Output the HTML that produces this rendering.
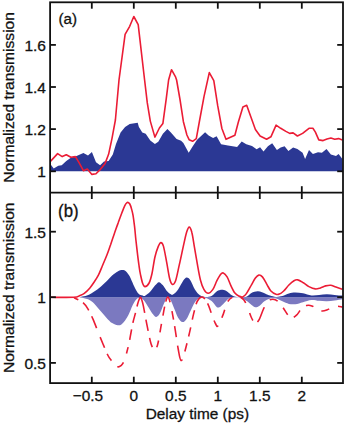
<!DOCTYPE html>
<html lang="en"><head><meta charset="utf-8"><title>Normalized transmission vs delay time</title>
<style>html,body{margin:0;padding:0;background:#fff}svg{display:block}</style></head>
<body>
<svg width="350" height="427" viewBox="0 0 350 427">
<rect width="350" height="427" fill="#fff"/>
<path d="M50.7,164.6 L53.7,168.5 L58.3,165.7 L61.7,165.3 L66.3,161.1 L70.9,157.7 L75.4,156.6 L83.4,153.1 L88.0,155.4 L91.9,152.0 L96.0,162.3 L100.1,165.3 L104.0,161.6 L108.6,161.1 L112.8,154.5 L116.0,144.0 L120.6,132.6 L125.1,126.9 L129.7,123.9 L137.7,122.7 L138.9,126.9 L142.3,132.6 L145.7,133.7 L150.3,140.6 L154.9,144.0 L158.3,141.7 L162.9,133.7 L167.4,129.1 L170.9,132.6 L176.6,139.0 L181.1,140.8 L183.4,143.1 L188.7,152.7 L192.6,146.6 L197.1,139.7 L205.1,132.2 L208.6,135.6 L213.1,137.9 L216.6,136.3 L221.1,144.3 L228.0,145.4 L237.1,147.0 L241.7,141.5 L246.3,144.3 L252.0,146.1 L256.6,149.3 L260.1,147.3 L263.5,151.4 L267.9,146.3 L272.2,143.2 L276.9,150.1 L280.7,147.6 L284.6,146.3 L288.4,150.9 L293.1,147.6 L297.4,148.9 L302.6,152.7 L305.1,159.1 L309.0,150.1 L312.9,154.0 L318.0,152.2 L321.9,152.7 L326.5,148.9 L330.9,154.5 L336.0,156.0 L338.6,154.0 L342.4,159.1 L343.0,171.2 L50.1,171.2 Z" fill="#2b3894"/>
<path d="M50.7,161.1 L57.6,153.6 L62.2,156.6 L66.3,154.7 L70.9,157.3 L75.4,156.6 L78.9,162.3 L83.4,170.7 L87.3,169.1 L91.9,174.4 L96.0,173.7 L100.6,169.1 L105.1,163.4 L108.6,154.3 L112.0,138.3 L115.4,120.0 L119.0,80.0 L125.1,34.3 L129.7,26.3 L133.8,16.5 L138.2,24.7 L144.6,80.0 L147.3,102.9 L150.3,121.1 L154.9,137.1 L159.4,128.0 L162.9,123.4 L166.3,98.3 L168.6,80.0 L171.5,69.7 L175.4,76.6 L176.6,80.0 L180.0,99.5 L183.4,121.7 L186.9,135.0 L189.1,139.7 L192.6,141.3 L196.3,138.7 L199.4,121.5 L204.0,96.6 L209.3,72.6 L213.8,80.6 L217.7,105.7 L221.9,128.5 L226.0,139.3 L234.9,135.2 L238.3,122.2 L242.9,106.9 L246.7,105.3 L250.9,117.1 L255.4,129.5 L260.1,136.0 L266.6,139.3 L270.9,136.8 L276.1,125.2 L280.7,128.3 L285.9,131.4 L289.7,133.4 L293.1,132.9 L297.4,136.0 L302.6,133.4 L309.0,128.3 L312.9,128.3 L315.4,132.1 L318.8,139.9 L323.1,140.6 L327.0,139.1 L330.9,138.1 L334.7,139.3 L338.6,138.6 L342.4,139.9" fill="none" stroke="#eb1c35" stroke-width="1.6" stroke-linejoin="round"/>
<path d="M78.0,297.3 C78.7,297.4 80.4,297.3 82.4,297.8 C84.4,298.3 87.7,299.0 89.9,300.2 C92.1,301.4 93.6,303.0 95.4,304.9 C97.2,306.8 99.1,309.2 101.0,311.4 C102.9,313.6 104.8,315.9 106.6,317.9 C108.4,319.8 110.2,321.9 112.1,323.1 C113.9,324.3 116.2,325.1 117.7,325.3 C119.2,325.5 120.2,325.2 121.4,324.4 C122.6,323.6 123.8,322.3 125.1,320.6 C126.3,318.9 127.8,316.3 128.9,314.1 C130.0,311.9 130.7,309.6 131.6,307.6 C132.5,305.6 133.5,303.6 134.4,302.1 C135.3,300.6 136.3,299.3 137.2,298.6 C138.1,297.9 138.6,297.5 139.6,297.7 C140.6,297.9 141.9,298.1 143.4,299.7 C144.9,301.3 147.0,304.9 148.6,307.4 C150.2,309.9 151.9,313.0 153.2,314.6 C154.5,316.2 155.2,317.1 156.3,316.9 C157.4,316.7 158.5,315.8 159.8,313.6 C161.1,311.4 162.8,306.2 164.0,303.6 C165.2,301.0 166.0,298.5 167.1,297.9 C168.2,297.2 169.2,297.9 170.4,299.7 C171.6,301.5 173.0,305.7 174.3,308.7 C175.6,311.7 176.7,315.5 178.1,317.7 C179.5,319.9 181.1,321.9 182.5,322.1 C183.9,322.3 185.2,321.0 186.6,319.0 C188.0,317.0 189.6,312.8 191.0,310.0 C192.4,307.2 193.6,304.2 194.9,302.3 C196.2,300.4 197.0,299.2 198.7,298.4 C200.4,297.6 202.9,297.3 205.1,297.7 C207.2,298.1 209.6,299.4 211.6,301.0 C213.6,302.6 215.4,306.3 216.9,307.2 C218.4,308.1 219.2,307.4 220.7,306.4 C222.2,305.4 224.4,302.7 225.9,301.3 C227.4,299.9 227.6,298.8 229.7,298.2 C231.8,297.6 235.9,297.1 238.7,297.5 C241.5,297.9 244.2,299.5 246.4,300.8 C248.6,302.1 250.1,304.0 251.6,305.1 C253.1,306.2 254.1,307.1 255.4,307.2 C256.7,307.3 257.8,306.9 259.3,305.9 C260.8,304.9 262.7,302.5 264.4,301.3 C266.1,300.1 267.7,299.2 269.6,298.7 C271.5,298.2 273.9,298.1 276.0,298.5 C278.1,298.9 280.2,300.4 282.4,301.3 C284.5,302.2 286.8,303.4 288.9,303.9 C291.0,304.4 292.9,304.5 295.3,304.2 C297.7,303.9 300.3,302.9 303.0,302.2 C305.7,301.5 308.7,300.2 311.4,300.0 C314.1,299.8 316.5,300.6 319.1,300.8 C321.7,301.0 324.3,301.4 326.9,301.3 C329.5,301.2 332.0,300.9 334.6,300.5 C337.2,300.1 341.0,299.4 342.3,299.2 L343.0,297.3 L78,297.3 Z" fill="#7b79c0"/>
<path d="M78.0,297.3 C79.0,297.1 82.0,296.7 84.0,296.2 C86.0,295.7 87.7,295.3 89.9,294.2 C92.1,293.1 94.8,291.5 97.3,289.6 C99.8,287.8 102.2,285.4 104.7,283.1 C107.2,280.8 109.9,277.6 112.1,275.6 C114.3,273.7 116.0,272.3 117.7,271.4 C119.4,270.5 121.0,270.0 122.4,270.0 C123.8,270.0 124.9,270.3 126.1,271.4 C127.3,272.5 128.6,274.4 129.8,276.6 C131.0,278.9 132.4,282.6 133.5,284.9 C134.6,287.2 135.4,288.9 136.3,290.5 C137.2,292.1 138.1,293.4 139.1,294.2 C140.1,295.0 141.2,295.0 142.1,295.3 C143.0,295.6 143.4,296.4 144.7,295.9 C146.0,295.3 148.2,293.7 149.9,292.0 C151.6,290.3 153.5,287.2 155.0,285.6 C156.5,284.0 157.6,282.3 158.9,282.2 C160.2,282.1 161.4,283.7 162.7,285.1 C164.0,286.5 165.3,289.2 166.6,290.7 C167.9,292.2 169.3,293.5 170.4,294.1 C171.5,294.8 171.7,295.4 173.0,294.6 C174.3,293.8 176.4,291.7 178.1,289.4 C179.8,287.1 181.9,282.6 183.3,280.6 C184.7,278.6 185.4,277.5 186.6,277.4 C187.8,277.3 188.8,277.9 190.2,279.9 C191.6,281.9 193.3,286.8 194.9,289.4 C196.5,292.0 198.3,294.1 200.0,295.3 C201.7,296.6 203.2,296.8 205.1,296.9 C207.0,297.0 209.4,296.9 211.6,295.9 C213.8,294.8 216.2,291.6 218.1,290.6 C220.0,289.6 221.3,289.6 222.8,289.7 C224.3,289.8 225.5,290.4 227.1,291.4 C228.7,292.4 230.4,294.6 232.3,295.6 C234.2,296.6 236.3,297.1 238.7,297.3 C241.0,297.5 244.3,297.4 246.4,296.7 C248.5,296.0 249.7,294.1 251.0,293.3 C252.3,292.5 253.3,292.2 254.5,291.8 C255.7,291.4 256.8,291.1 258.0,291.2 C259.2,291.3 260.7,291.7 262.0,292.2 C263.3,292.7 264.7,293.4 266.0,294.0 C267.3,294.6 268.3,295.1 270.0,295.6 C271.7,296.1 273.9,296.8 276.0,296.9 C278.1,297.0 280.2,296.7 282.4,296.1 C284.5,295.6 286.8,294.2 288.9,293.6 C291.0,293.0 292.9,292.7 295.3,292.6 C297.7,292.6 300.3,292.8 303.0,293.3 C305.7,293.8 308.7,295.1 311.4,295.4 C314.1,295.7 316.5,295.1 319.1,294.9 C321.7,294.7 324.3,294.3 326.9,294.3 C329.5,294.3 332.0,294.7 334.6,294.9 C337.2,295.1 341.0,295.5 342.3,295.6 L343.0,297.3 L78,297.3 Z" fill="#2b3894"/>
<path d="M73.7,297.6 C75.2,298.4 80.3,300.5 82.7,302.4 C85.1,304.3 86.2,306.1 87.9,308.9 C89.6,311.7 91.3,315.2 93.0,319.1 C94.7,323.0 96.4,327.7 98.1,332.0 C99.8,336.3 101.7,340.9 103.3,344.7 C104.9,348.5 106.4,352.4 107.7,355.0 C109.0,357.6 109.4,358.2 111.0,360.1 C112.6,362.0 115.7,365.7 117.4,366.6 C119.1,367.5 120.2,366.2 121.3,365.3 C122.4,364.4 123.1,363.3 123.9,361.4 C124.8,359.5 125.6,356.7 126.4,353.7 C127.2,350.7 128.2,347.2 129.0,343.4 C129.8,339.6 130.6,334.6 131.3,331.0 C132.0,327.4 132.5,324.5 133.2,321.5 C133.9,318.5 134.8,315.7 135.5,312.9 C136.2,310.1 136.9,306.8 137.5,304.5 C138.1,302.2 138.8,300.2 139.3,299.0 C139.8,297.8 140.1,297.1 140.5,297.3 C140.9,297.5 141.3,298.5 141.8,300.0 C142.3,301.5 142.5,301.7 143.4,306.1 C144.3,310.6 146.0,320.4 147.3,326.7 C148.6,333.0 149.9,340.3 151.1,344.0 C152.3,347.7 153.4,348.9 154.5,349.0 C155.6,349.1 156.4,348.8 157.6,344.7 C158.8,340.6 160.1,331.0 161.4,324.1 C162.7,317.2 164.2,308.1 165.3,303.6 C166.4,299.1 167.1,297.1 167.9,297.1 C168.8,297.1 169.3,299.1 170.4,303.6 C171.5,308.1 173.0,316.6 174.3,324.1 C175.6,331.6 177.0,342.4 178.1,348.5 C179.2,354.6 179.9,359.9 181.0,360.5 C182.1,361.1 183.2,357.2 184.6,352.4 C186.0,347.6 188.2,338.3 189.7,331.9 C191.2,325.5 192.3,319.0 193.6,313.9 C194.9,308.8 195.9,303.8 197.4,301.0 C198.9,298.2 200.9,296.7 202.6,297.1 C204.3,297.5 206.2,300.8 207.7,303.6 C209.2,306.4 210.3,310.6 211.6,313.9 C212.9,317.2 214.3,321.5 215.4,323.5 C216.5,325.5 216.7,327.4 218.0,325.8 C219.3,324.2 221.8,318.0 223.3,314.1 C224.8,310.2 225.6,305.4 227.1,302.6 C228.6,299.8 230.4,298.3 232.3,297.4 C234.2,296.4 236.8,296.5 238.7,296.9 C240.6,297.3 242.4,298.2 243.9,300.0 C245.4,301.8 246.4,304.7 247.7,307.7 C249.0,310.7 250.3,315.4 251.6,318.0 C252.9,320.6 254.1,322.9 255.4,323.1 C256.7,323.3 257.9,321.7 259.3,319.3 C260.7,316.9 262.1,312.0 263.5,309.0 C264.9,306.0 266.1,302.9 267.7,301.3 C269.3,299.7 271.2,299.2 272.9,299.2 C274.6,299.2 276.3,299.9 278.0,301.3 C279.7,302.7 281.4,305.3 283.1,307.7 C284.8,310.1 286.9,313.9 288.3,315.6 C289.8,317.3 290.4,318.1 291.8,318.0 C293.2,317.9 294.9,316.7 296.5,315.2 C298.1,313.7 299.8,310.4 301.5,308.8 C303.2,307.2 304.8,306.1 306.5,305.6 C308.2,305.1 310.1,305.3 311.8,305.9 C313.6,306.5 315.3,308.1 317.0,309.0 C318.7,309.9 320.5,310.9 322.2,311.0 C323.9,311.1 325.6,310.4 327.3,309.8 C329.0,309.2 330.8,307.8 332.5,307.2 C334.2,306.6 336.0,306.2 337.6,306.2 C339.2,306.2 341.5,306.9 342.3,307.0" fill="none" stroke="#eb1c35" stroke-width="1.6" stroke-dasharray="0.0 0.5 4.6 5.5 9.7 6.6 12.9 9.4 11.6 6.6 8.3 8.2 8.2 9.3 6.8 7.4 10.3 6.8 10.4 6.3 26.6 6.7 11.4 7.2 9.5 6.1 7.0 8.3 8.6 8.4 9.0 5.1 11.1 9.1 8.5 6.8 10.9 8.4 17.4 8.4 8.4 6.7 9.5 7.9 9.7 6.0 13.7 5.1 10.0 8.0 8.3 8.6 8.5 8.8 6.3 8.6 7.5 10.7 8.1 6.1 16.3 9.3 8.5 8.7 8.2 7.7 9.1 7.9 7.7 9.0 8.2 9.3 5.8 1000.0"/>
<path d="M50.6,297.3 C54.5,297.3 68.8,297.6 73.7,297.3 C78.6,297.0 78.2,296.2 80.0,295.5 C81.8,294.8 82.6,294.6 84.3,293.3 C86.0,292.0 88.2,289.9 89.9,287.9 C91.6,285.9 93.1,283.6 94.5,281.5 C95.9,279.4 97.1,277.6 98.4,275.1 C99.7,272.6 100.8,269.7 102.2,266.3 C103.6,262.9 105.5,258.6 106.9,255.0 C108.3,251.4 109.3,248.3 110.6,244.7 C111.8,241.1 113.2,237.0 114.4,233.4 C115.7,229.8 116.8,226.5 118.1,223.1 C119.3,219.7 120.8,215.7 121.9,212.8 C123.0,209.9 123.9,207.4 124.7,205.8 C125.5,204.2 126.0,203.6 126.6,203.0 C127.2,202.4 127.6,202.2 128.1,202.4 C128.6,202.6 129.2,202.9 129.8,204.0 C130.4,205.1 131.1,207.2 131.6,209.1 C132.1,211.0 132.6,212.6 133.1,215.6 C133.6,218.6 134.1,222.8 134.6,226.9 C135.1,231.0 135.4,235.6 135.9,240.0 C136.4,244.4 136.9,248.7 137.4,253.1 C137.9,257.5 138.6,262.6 139.1,266.3 C139.6,270.0 140.0,272.3 140.6,275.1 C141.2,277.9 141.9,281.3 142.6,283.2 C143.3,285.1 143.9,286.6 145.0,286.6 C146.1,286.6 147.9,285.2 149.1,283.0 C150.3,280.8 151.0,277.9 152.0,273.5 C153.0,269.1 153.9,261.2 155.0,256.7 C156.1,252.2 157.3,248.8 158.3,246.4 C159.3,244.1 160.0,242.6 160.9,242.6 C161.8,242.6 162.6,243.2 163.5,246.4 C164.4,249.6 165.6,256.6 166.6,261.9 C167.6,267.2 168.6,274.3 169.5,278.0 C170.4,281.7 171.2,283.8 172.2,284.3 C173.2,284.8 174.4,284.1 175.6,280.8 C176.8,277.5 178.1,270.1 179.4,264.4 C180.7,258.7 182.1,251.8 183.3,246.4 C184.5,241.1 185.6,235.5 186.6,232.3 C187.6,229.1 188.3,227.1 189.2,227.1 C190.1,227.1 191.0,229.1 191.8,232.3 C192.7,235.5 193.4,241.1 194.3,246.4 C195.2,251.8 196.4,258.8 197.4,264.4 C198.4,270.0 199.4,276.0 200.5,280.2 C201.6,284.4 202.6,287.2 203.9,289.4 C205.2,291.6 206.7,293.3 208.2,293.3 C209.7,293.3 211.4,291.5 212.9,289.4 C214.4,287.3 215.6,283.2 216.9,280.7 C218.2,278.2 219.6,275.6 220.7,274.3 C221.8,273.0 222.2,272.6 223.3,273.0 C224.4,273.4 225.8,274.8 227.1,276.9 C228.4,279.0 229.7,283.2 231.0,285.9 C232.3,288.6 233.6,291.4 234.9,293.1 C236.2,294.8 237.4,295.5 238.7,296.1 C240.0,296.7 241.3,297.3 242.6,296.9 C243.9,296.5 244.9,295.7 246.4,293.6 C247.9,291.6 250.1,287.2 251.6,284.6 C253.1,282.0 254.2,279.7 255.4,278.1 C256.6,276.5 257.6,275.3 258.8,275.1 C260.0,274.9 261.0,275.3 262.4,276.9 C263.8,278.5 265.6,282.2 267.0,284.6 C268.4,287.0 269.4,289.4 270.9,291.0 C272.4,292.6 274.6,293.8 276.0,294.3 C277.4,294.8 278.0,294.7 279.3,294.1 C280.6,293.6 282.1,292.5 283.7,291.0 C285.3,289.5 287.2,286.7 288.9,285.0 C290.6,283.3 292.5,281.6 294.0,280.7 C295.5,279.8 296.3,279.5 297.9,279.9 C299.5,280.2 301.6,281.7 303.4,282.8 C305.2,283.9 306.9,285.6 308.9,286.6 C310.9,287.6 313.4,288.7 315.3,288.9 C317.2,289.1 318.7,288.4 320.4,287.9 C322.1,287.4 323.9,286.3 325.6,285.9 C327.3,285.5 329.0,285.1 330.7,285.3 C332.4,285.5 334.0,286.5 335.9,287.1 C337.8,287.8 341.2,288.9 342.3,289.2" fill="none" stroke="#eb1c35" stroke-width="1.6"/>
<g stroke="#111111" stroke-width="1.8" fill="none" stroke-linecap="butt">
<rect x="50.1" y="2.3" width="292.9" height="380.8"/>
<line x1="50.1" y1="192.6" x2="343.0" y2="192.6"/>
<line x1="91.80" y1="2.3" x2="91.80" y2="8.7"/>
<line x1="91.80" y1="186.2" x2="91.80" y2="199.0"/>
<line x1="91.80" y1="376.70000000000005" x2="91.80" y2="383.1"/>
<line x1="133.80" y1="2.3" x2="133.80" y2="8.7"/>
<line x1="133.80" y1="186.2" x2="133.80" y2="199.0"/>
<line x1="133.80" y1="376.70000000000005" x2="133.80" y2="383.1"/>
<line x1="175.80" y1="2.3" x2="175.80" y2="8.7"/>
<line x1="175.80" y1="186.2" x2="175.80" y2="199.0"/>
<line x1="175.80" y1="376.70000000000005" x2="175.80" y2="383.1"/>
<line x1="217.80" y1="2.3" x2="217.80" y2="8.7"/>
<line x1="217.80" y1="186.2" x2="217.80" y2="199.0"/>
<line x1="217.80" y1="376.70000000000005" x2="217.80" y2="383.1"/>
<line x1="259.80" y1="2.3" x2="259.80" y2="8.7"/>
<line x1="259.80" y1="186.2" x2="259.80" y2="199.0"/>
<line x1="259.80" y1="376.70000000000005" x2="259.80" y2="383.1"/>
<line x1="301.80" y1="2.3" x2="301.80" y2="8.7"/>
<line x1="301.80" y1="186.2" x2="301.80" y2="199.0"/>
<line x1="301.80" y1="376.70000000000005" x2="301.80" y2="383.1"/>
<line x1="50.1" y1="44.9" x2="55.9" y2="44.9"/>
<line x1="337.2" y1="44.9" x2="343.0" y2="44.9"/>
<line x1="50.1" y1="87.0" x2="55.9" y2="87.0"/>
<line x1="337.2" y1="87.0" x2="343.0" y2="87.0"/>
<line x1="50.1" y1="129.1" x2="55.9" y2="129.1"/>
<line x1="337.2" y1="129.1" x2="343.0" y2="129.1"/>
<line x1="50.1" y1="171.3" x2="55.9" y2="171.3"/>
<line x1="337.2" y1="171.3" x2="343.0" y2="171.3"/>
<line x1="50.1" y1="231.7" x2="55.9" y2="231.7"/>
<line x1="337.2" y1="231.7" x2="343.0" y2="231.7"/>
<line x1="50.1" y1="297.2" x2="55.9" y2="297.2"/>
<line x1="337.2" y1="297.2" x2="343.0" y2="297.2"/>
<line x1="50.1" y1="362.9" x2="55.9" y2="362.9"/>
<line x1="337.2" y1="362.9" x2="343.0" y2="362.9"/>
</g>
<g font-family="'Liberation Sans', Arial, Helvetica, sans-serif" font-size="15.55" fill="#111111" stroke="#111111" stroke-width="0.3">
<text transform="translate(87.90,400.90) scale(1.0,1.0)" text-anchor="middle" font-size="15.4">−0.5</text>
<text transform="translate(133.80,400.90) scale(1.0,1.0)" text-anchor="middle" font-size="15.4">0</text>
<text transform="translate(175.80,400.90) scale(1.0,1.0)" text-anchor="middle" font-size="15.4">0.5</text>
<text transform="translate(217.80,400.90) scale(1.0,1.0)" text-anchor="middle" font-size="15.4">1</text>
<text transform="translate(259.80,400.90) scale(1.0,1.0)" text-anchor="middle" font-size="15.4">1.5</text>
<text transform="translate(301.80,400.90) scale(1.0,1.0)" text-anchor="middle" font-size="15.4">2</text>
<text transform="translate(46.00,50.90) scale(1.0,0.98)" text-anchor="end" font-size="15.55">1.6</text>
<text transform="translate(46.00,93.00) scale(1.0,0.98)" text-anchor="end" font-size="15.55">1.4</text>
<text transform="translate(46.00,135.10) scale(1.0,0.98)" text-anchor="end" font-size="15.55">1.2</text>
<text transform="translate(46.00,177.30) scale(1.0,0.98)" text-anchor="end" font-size="15.55">1</text>
<text transform="translate(46.00,237.70) scale(1.0,0.98)" text-anchor="end" font-size="15.55">1.5</text>
<text transform="translate(46.00,303.20) scale(1.0,0.98)" text-anchor="end" font-size="15.55">1</text>
<text transform="translate(46.00,368.90) scale(1.0,0.98)" text-anchor="end" font-size="15.55">0.5</text>
<text transform="translate(58.40,23.70) scale(1.0,0.98)" text-anchor="start" font-size="15.2">(a)</text>
<text transform="translate(58.10,216.60) scale(1.0,1.06)" text-anchor="start" font-size="16.8">(b)</text>
<text transform="translate(197.40,419.00) scale(1.0,0.95)" text-anchor="middle" font-size="15.4">Delay time (ps)</text>
<text transform="translate(14.4,97.4) rotate(-90) scale(1,0.95)" text-anchor="middle" font-size="15.6">Normalized transmission</text>
<text transform="translate(14.4,287.8) rotate(-90) scale(1,0.95)" text-anchor="middle" font-size="15.6">Normalized transmission</text>
</g>
</svg>
</body></html>
